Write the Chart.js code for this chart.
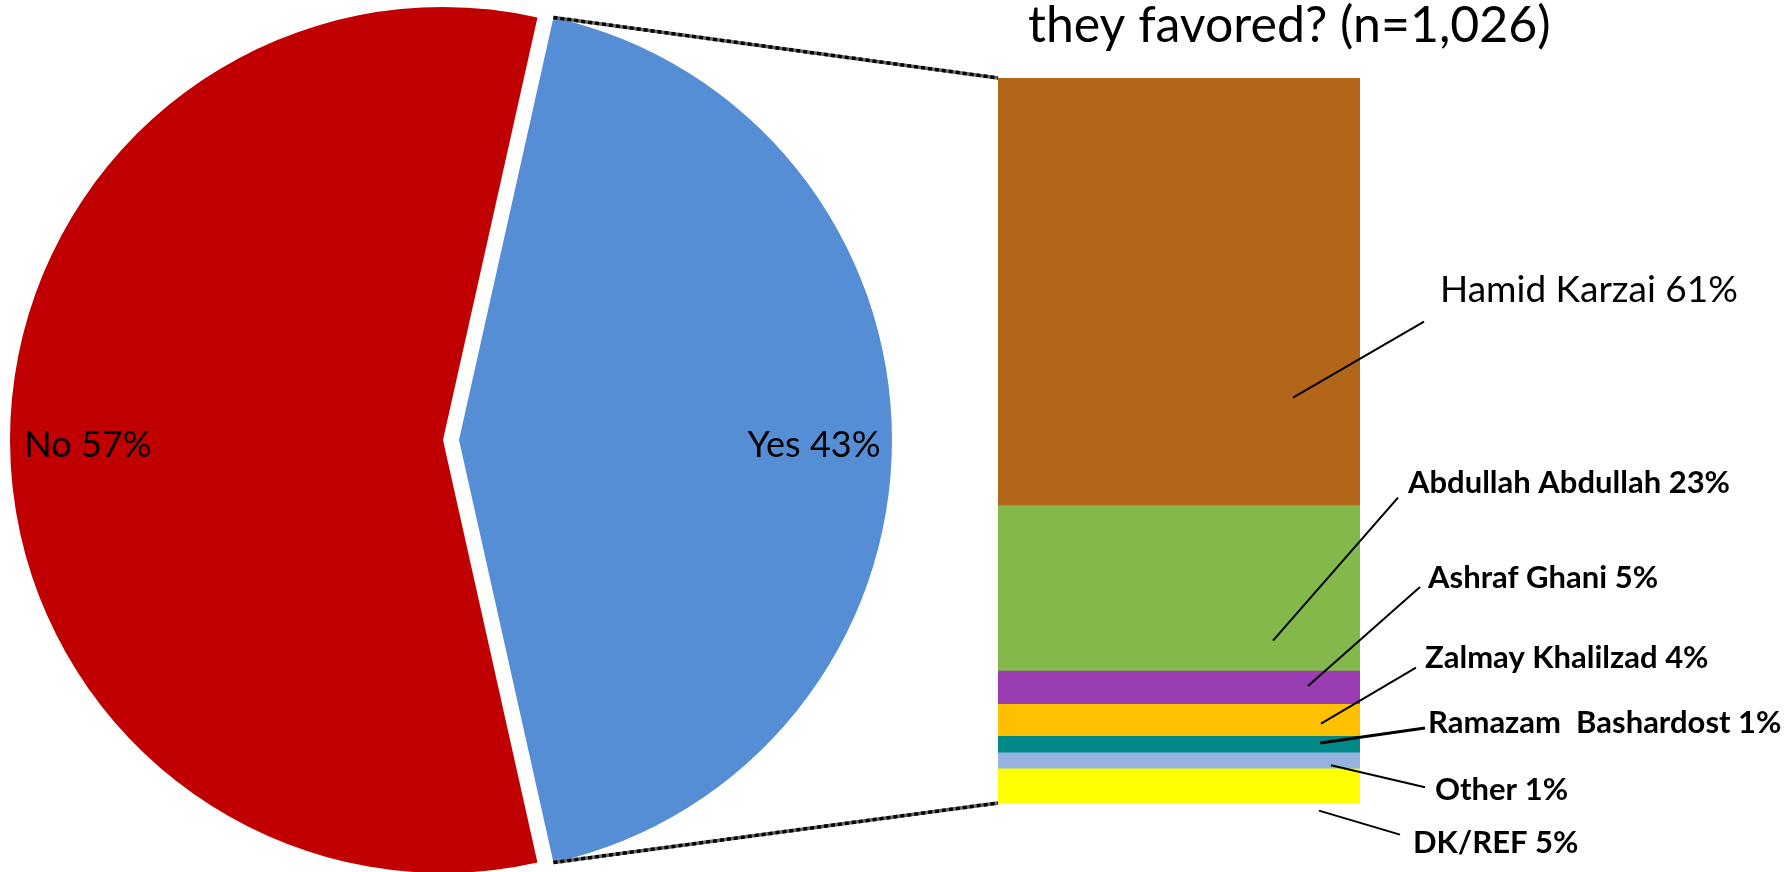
<!DOCTYPE html>
<html>
<head>
<meta charset="utf-8">
<title>Bar of pie</title>
<script src="https://cdn.jsdelivr.net/npm/chart.js@4.4.1/dist/chart.umd.min.js"></script>
<style>
  html, body { margin: 0; padding: 0; background: #fff; overflow: hidden; }
  #wrap { position: relative; width: 1785px; height: 872px; }
  #wrap canvas { position: absolute; top: 0; }
  #pieNo { left: 0; }
  #pieYes { left: 16px; }   /* exploded "Yes" slice */
  #stack { left: 0; }
</style>
</head>
<body>
<div id="wrap">
  <canvas id="pieNo" width="900" height="872"></canvas>
  <canvas id="pieYes" width="900" height="872"></canvas>
  <canvas id="stack" width="1785" height="872"></canvas>
</div>
<script>
// =========================================================
// DATA
// =========================================================
const titleText = 'they favored? (n=1,026)';

const pieLabels = ['Yes', 'No'];
const pieValues = [43, 57];
const pieColors = ['#558ED5', '#C00000'];

const candidates = ['Hamid Karzai', 'Abdullah Abdullah', 'Ashraf Ghani', 'Zalmay Khalilzad',
                    'Ramazam  Bashardost', 'Other', 'DK/REF'];
const candidateValues = [58.9, 22.8, 4.6, 4.4, 2.3, 2.2, 4.8];   // segment sizes as drawn
const candidatePct = [61, 23, 5, 4, 1, 1, 5];                      // percentages as printed
const candidateColors = ['#B3651A', '#84B84A', '#9A3DB3', '#FFC000', '#008987', '#95B3DE', '#FFFF00'];

// callout styling: offsets from (bar right edge, segment middle)
// [leader inner dx, dy, leader outer dx, dy, text dx, text baseline dy]
const calloutOffsets = [
    [-67, 106, 64, 30, 80, 10],
    [-87, 53, 38, -90, 48, -95],
    [-52, -1, 60, -100, 68, -99],
    [-39, 4, 56, -52, 65, -52],
    [-40, -1, 65, -16, 68, -11],
    [-29, 5, 65, 27, 75, 40],
    [-41, 25, 40, 49, 53, 67]
];
const calloutFonts = ['37px Lato', 'bold 31px Lato', 'bold 31px Lato', 'bold 31px Lato',
                      'bold 31px Lato', 'bold 31px Lato', 'bold 31px Lato'];

// =========================================================
// PIE (two stacked canvases so the Yes slice sits apart)
// =========================================================
const sliceLabelPlugin = {
    id: 'sliceLabel',
    afterDatasetsDraw(chart, args, opts) {
        const arc = chart.getDatasetMeta(0).data[opts.index];
        const mid = (arc.startAngle + arc.endAngle) / 2;
        const r = arc.outerRadius * 0.82;
        const ctx = chart.ctx;
        ctx.save();
        ctx.font = '36px Lato';
        ctx.fillStyle = '#000';
        ctx.textAlign = 'center';
        ctx.textBaseline = 'alphabetic';
        ctx.fillText(pieLabels[opts.index] + ' ' + pieValues[opts.index] + '%',
            arc.x + Math.cos(mid) * r, arc.y + Math.sin(mid) * r + 17);
        ctx.restore();
    }
};

const pieTotal = pieValues.reduce((a, b) => a + b, 0);

function makePie(id, showIndex) {
    const colors = pieColors.map((c, i) => i === showIndex ? c : 'rgba(0,0,0,0)');
    return new Chart(document.getElementById(id), {
        type: 'pie',
        data: {
            labels: pieLabels,
            datasets: [{ data: pieValues, backgroundColor: colors, borderWidth: 0 }]
        },
        options: {
            responsive: false,
            animation: false,
            events: [],
            // centre the Yes slice on 3 o'clock
            rotation: 90 - 180 * pieValues[0] / pieTotal,
            radius: 433,
            layout: { padding: { top: 8, right: 14 } },
            plugins: {
                legend: { display: false },
                tooltip: { enabled: false },
                sliceLabel: { index: showIndex }
            }
        },
        plugins: [sliceLabelPlugin]
    });
}

makePie('pieNo', 1);
const yesChart = makePie('pieYes', 0);

// =========================================================
// STACKED BAR + CALLOUTS
// =========================================================
const calloutPlugin = {
    id: 'callouts',
    afterDatasetsDraw(chart) {
        const ctx = chart.ctx;
        const area = chart.chartArea;
        ctx.save();

        // title (only its second line is inside the picture)
        ctx.font = '50px Lato';
        ctx.fillStyle = '#000';
        ctx.textAlign = 'left';
        ctx.textBaseline = 'alphabetic';
        ctx.fillText(titleText, area.left + 30, area.top - 36);

        // connector lines from the Yes slice to the bar
        const arc = yesChart.getDatasetMeta(0).data[0];
        const dx = yesChart.canvas.offsetLeft;
        const first = chart.getDatasetMeta(0).data[0];
        const last = chart.getDatasetMeta(candidates.length - 1).data[0];
        const barLeft = first.x - first.width / 2;
        const barTop = Math.min(first.y, first.base);
        const barBottom = Math.max(last.y, last.base);
        const ends = [
            [arc.x + dx + Math.cos(arc.startAngle) * arc.outerRadius, arc.y + Math.sin(arc.startAngle) * arc.outerRadius, barLeft, barTop],
            [arc.x + dx + Math.cos(arc.endAngle) * arc.outerRadius, arc.y + Math.sin(arc.endAngle) * arc.outerRadius, barLeft, barBottom]
        ];
        ends.forEach(([x1, y1, x2, y2]) => {
            ctx.lineWidth = 3.5;
            ctx.setLineDash([]);
            ctx.strokeStyle = '#666';
            ctx.beginPath(); ctx.moveTo(x1, y1); ctx.lineTo(x2, y2); ctx.stroke();
            ctx.setLineDash([4, 3]);
            ctx.strokeStyle = '#000';
            ctx.beginPath(); ctx.moveTo(x1, y1); ctx.lineTo(x2, y2); ctx.stroke();
        });
        ctx.setLineDash([]);

        // leader lines and labels
        candidates.forEach((name, i) => {
            const el = chart.getDatasetMeta(i).data[0];
            const right = el.x + el.width / 2;
            const mid = (el.y + el.base) / 2;
            const o = calloutOffsets[i];
            ctx.strokeStyle = '#000';
            ctx.lineWidth = i === 4 ? 3 : 2;
            ctx.beginPath();
            ctx.moveTo(right + o[0], mid + o[1]);
            ctx.lineTo(right + o[2], mid + o[3]);
            ctx.stroke();
            ctx.font = calloutFonts[i];
            ctx.fillText(name + ' ' + candidatePct[i] + '%', right + o[4], mid + o[5]);
        });
        ctx.restore();
    }
};

const candidateTotal = candidateValues.reduce((a, b) => a + b, 0);

new Chart(document.getElementById('stack'), {
    type: 'bar',
    data: {
        labels: [''],
        datasets: candidates.map((name, i) => ({
            label: name,
            data: [candidateValues[i]],
            backgroundColor: candidateColors[i],
            borderWidth: 0,
            barPercentage: 1,
            categoryPercentage: 1
        }))
    },
    options: {
        responsive: false,
        animation: false,
        events: [],
        layout: { padding: { left: 998, right: 425, top: 78, bottom: 69 } },
        scales: {
            x: { display: false, stacked: true },
            y: { display: false, stacked: true, reverse: true, min: 0, max: candidateTotal }
        },
        plugins: {
            legend: { display: false },
            tooltip: { enabled: false }
        }
    },
    plugins: [calloutPlugin]
});
</script>
</body>
</html>
